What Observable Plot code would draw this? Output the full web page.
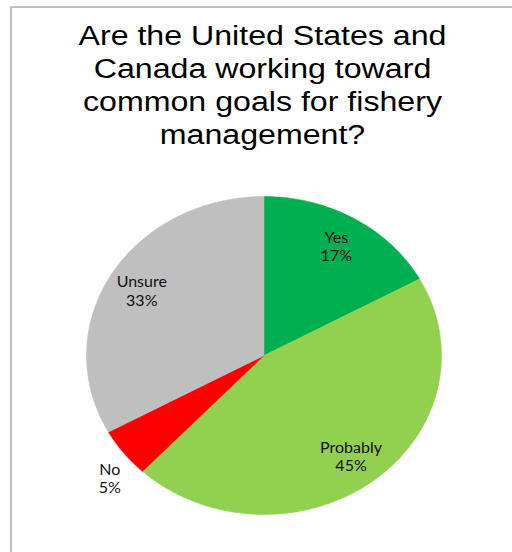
<!DOCTYPE html>
<html><head><meta charset="utf-8">
<script src="https://cdn.jsdelivr.net/npm/d3@7"></script>
<script src="https://cdn.jsdelivr.net/npm/@observablehq/plot@0.6"></script>
<style>
html,body{margin:0;padding:0;background:#fff;width:512px;height:552px;overflow:hidden;}
#frame{position:absolute;left:10px;top:6px;width:530px;height:570px;border-top:2px solid #c0c0c0;border-left:2px solid #c0c0c0;z-index:2;pointer-events:none;}
#title{position:absolute;left:6px;top:20px;width:513px;text-align:center;font-family:"Liberation Sans",Arial,sans-serif;font-size:27px;line-height:33px;color:#000;transform:scaleX(1.19);}
#chart{position:absolute;left:0;top:162px;z-index:1;}
</style></head><body>
<div id="frame"></div>
<div id="title">Are the United States and<br>Canada working toward<br>common goals for fishery<br>management?</div>
<div id="chart"></div>
<script>
const categories = ["Yes", "Probably", "No", "Unsure"];
const percents = [17, 45, 5, 33];
const colors = ["#00B050", "#92D050", "#FF0000", "#BFBFBF"];

const total = d3.sum(percents);
let acc = 0;
const slices = categories.map((c, i) => {
  const a0 = acc / total * 2 * Math.PI;
  acc += percents[i];
  const a1 = acc / total * 2 * Math.PI;
  return {c, pct: percents[i], color: colors[i], a0, a1};
});
function arcPoints(s) {
  const pts = [{x: 0, y: 0}];
  const n = Math.max(2, Math.ceil((s.a1 - s.a0) / (Math.PI / 360)));
  for (let k = 0; k <= n; k++) {
    const t = s.a0 + (s.a1 - s.a0) * k / n;
    pts.push({x: Math.sin(t), y: Math.cos(t)});
  }
  pts.push({x: 0, y: 0});
  return pts;
}
const labels = slices.map(s => {
  const m = (s.a0 + s.a1) / 2;
  const inside = s.pct >= 10;
  const rx = inside ? 0.8 : 1.1, ry = inside ? 0.8 : 1.26;
  return {x: Math.sin(m) * rx, y: Math.cos(m) * ry, text: `${s.c}\n${s.pct}%`};
});

const chart = Plot.plot({
  width: 512,
  height: 390,
  x: {domain: [-1, 1], range: [86, 441], axis: null},
  y: {domain: [-1, 1], range: [352, 34], axis: null},
  style: {background: "transparent"},
  marks: [
    ...slices.map(s => Plot.line(arcPoints(s), {x: "x", y: "y", fill: s.color, stroke: s.color, strokeWidth: 0.5})),
    Plot.text(labels, {x: "x", y: "y", text: "text", fontSize: 16, lineHeight: 1.15, fill: "#111", fontFamily: "Lato, 'Open Sans', sans-serif"})
  ]
});
document.getElementById("chart").appendChild(chart);
</script>
</body></html>
